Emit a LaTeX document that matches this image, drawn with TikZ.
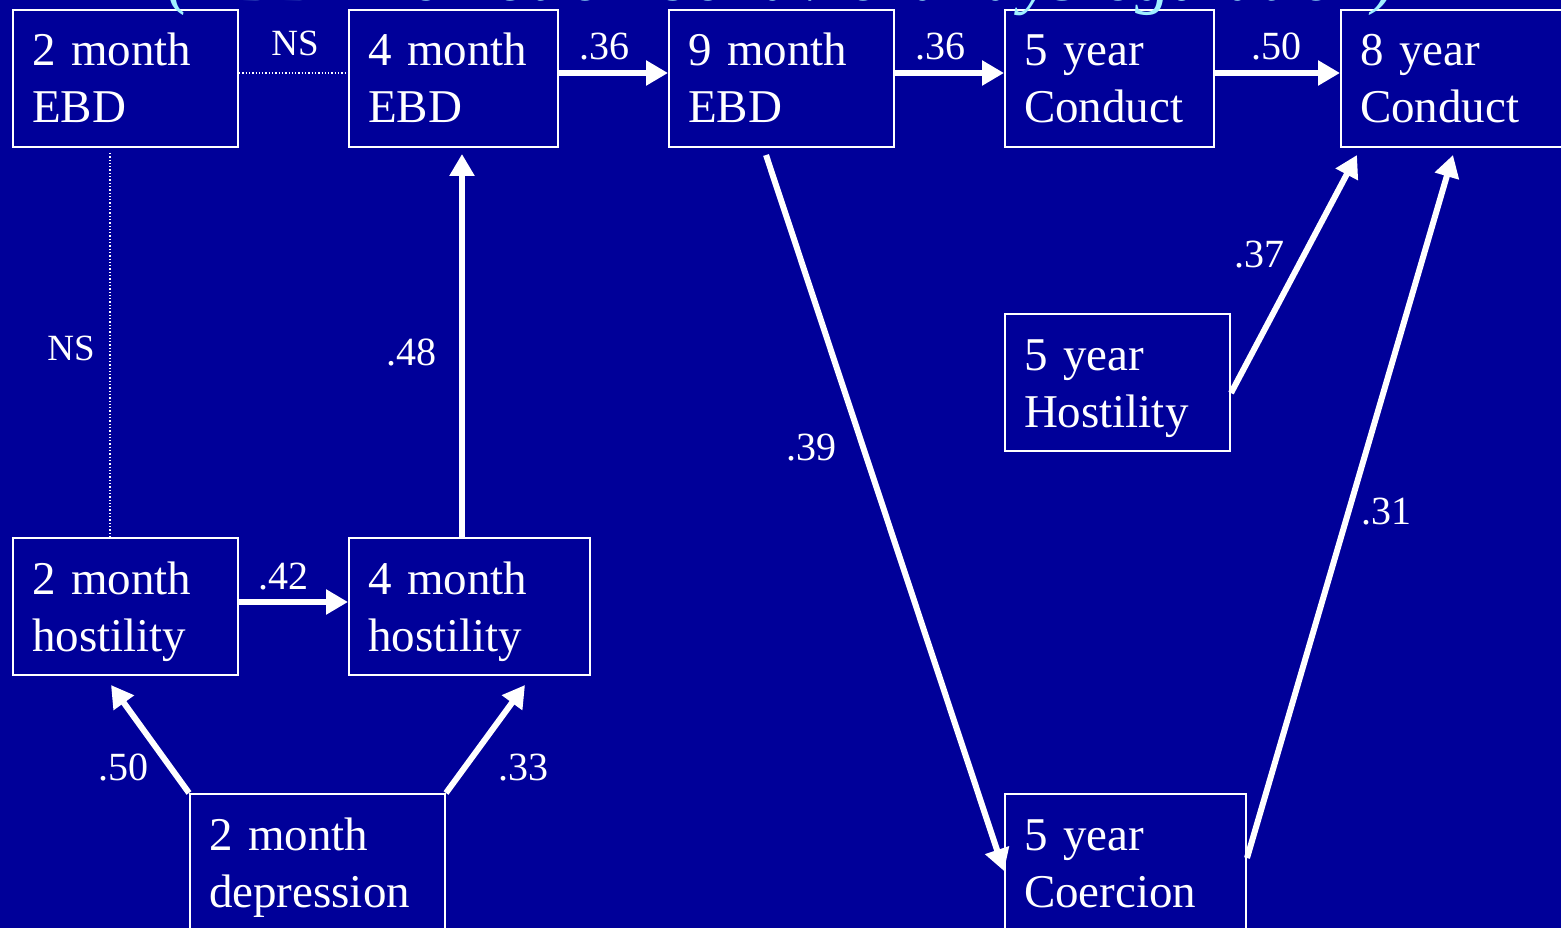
\documentclass[tikz,border=0pt]{standalone}
\usepackage{fontspec}
\setmainfont{Liberation Serif}
\usetikzlibrary{arrows.meta}
\definecolor{bg}{RGB}{0,0,153}
\definecolor{ttl}{RGB}{160,240,255}
\begin{document}
\begin{tikzpicture}[x=1pt,y=-1pt,
  box/.style={draw=white, line width=2pt, fill=bg, text=white, anchor=north west,
    inner xsep=19pt, inner ysep=0pt, text height=56pt, text depth=81pt, align=left,
    font=\fontsize{47}{57}\selectfont},
  arr/.style={draw=white, line width=6pt, -{Triangle[length=22pt,width=24pt]}},
  ns/.style={draw=white, line width=1.3pt, dotted},
  lab/.style={text=white, anchor=base, inner sep=0pt, font=\fontsize{40}{40}\selectfont},
  nslab/.style={text=white, anchor=base, inner sep=0pt, font=\fontsize{37}{37}\selectfont},
]
\useasboundingbox (0,0) rectangle (1561,928);
\clip (0,0) rectangle (1561,928);
\fill[bg] (0,0) rectangle (1561,928);

\node[box, text width=187pt] (e2) at (12,9) {2 month\\EBD};
\node[box, text width=171pt] (e4) at (348,9) {4 month\\EBD};
\node[box, text width=187pt] (e9) at (668,9) {9 month\\EBD};
\node[box, text width=171pt] (c5) at (1004,9) {5 year\\Conduct};
\node[box, text width=202pt] (c8) at (1340,9) {8 year\\Conduct};
\node[box, text width=187pt] (h2) at (12,537) {2 month\\hostility};
\node[box, text width=203pt] (h4) at (348,537) {4 month\\hostility};
\node[box, text width=217pt] (d2) at (189,793) {2 month\\depression};
\node[box, text width=187pt] (h5) at (1004,313) {5 year\\Hostility};
\node[box, text width=203pt] (co5) at (1004,793) {5 year\\Coercion};

% title (cut off at the top edge, as in the reference)
\node[text=ttl, anchor=base, inner sep=0pt, font=\fontsize{71}{71}\selectfont\itshape] (title) at (782,1) {(EBD = emotion behavioral dysregulation)};

% dotted NS paths
\draw[ns] ([yshift=5.5pt]e2.east) -- ([yshift=5.5pt]e4.west);
\draw[ns] ([xshift=-15.5pt,yshift=-5pt]e2.south) -- ([xshift=-15.5pt]h2.north);

% arrows
\draw[arr] ([yshift=5.5pt]e4.east) -- ([yshift=5.5pt]e9.west);
\draw[arr] ([yshift=5.5pt]e9.east) -- ([yshift=5.5pt]c5.west);
\draw[arr] ([yshift=5.5pt]c5.east) -- ([yshift=5.5pt]c8.west);
\draw[arr] ([yshift=4.5pt]h2.east) -- ([yshift=4.5pt]h4.west);
\draw[arr] ([xshift=-7.5pt]h4.north) -- ([xshift=8.5pt,yshift=-6pt]e4.south);
\draw[arr] (d2.north west) -- ([xshift=-14.5pt,yshift=-9pt]h2.south);
\draw[arr] (d2.north east) -- ([xshift=55.5pt,yshift=-9pt]h4.south);
\draw[arr] ([xshift=-15.5pt,yshift=-7pt]e9.south) -- ([yshift=-8.5pt]co5.west);
\draw[arr] ([yshift=-10.5pt]h5.east) -- ([xshift=17pt,yshift=-7pt]c8.south west);
\draw[arr] ([yshift=4.5pt]co5.east) -- ([xshift=113pt,yshift=-7pt]c8.south west);

% labels
\node[nslab] (lns1) at (295,56) {NS};
\node[nslab] (lns2) at (71,360) {NS};
\node[lab] (l36a) at (604,60) {.36};
\node[lab] (l36b) at (940,60) {.36};
\node[lab] (l50a) at (1276,60) {.50};
\node[lab] (l48) at (411,365) {.48};
\node[lab] (l42) at (283,589) {.42};
\node[lab] (l50b) at (123,780) {.50};
\node[lab] (l33) at (523,780) {.33};
\node[lab] (l39) at (811,460) {.39};
\node[lab] (l37) at (1259,268) {.37};
\node[lab] (l31) at (1386,524) {.31};
\end{tikzpicture}
\end{document}
